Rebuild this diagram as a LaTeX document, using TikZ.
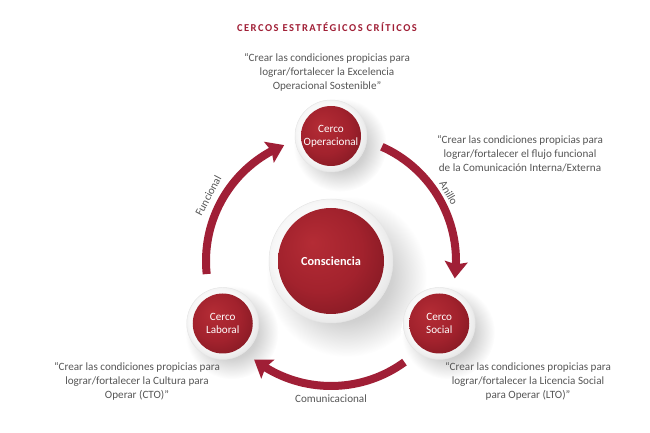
\documentclass[tikz,border=0pt]{standalone}
\usepackage{fontspec}
\setmainfont{Carlito}
\usetikzlibrary{arrows.meta,bending}

\definecolor{vino}{HTML}{A01F36}
\definecolor{rojoclaro}{HTML}{B42C35}
\definecolor{rojo}{HTML}{A2222D}
\definecolor{rojooscuro}{HTML}{7A1620}
\definecolor{gristexto}{HTML}{555555}

\pgfdeclareradialshading{bolavino}{\pgfpoint{-9bp}{9bp}}{color(0bp)=(rojoclaro); color(20bp)=(rojo); color(38bp)=(rojooscuro); color(50bp)=(rojooscuro)}
\pgfdeclareradialshading{aro}{\pgfpoint{-4bp}{4bp}}{color(0bp)=(white); color(21bp)=(gray!6); color(29bp)=(gray!22); color(50bp)=(gray!22)}
\pgfdeclareradialshading{sombra}{\pgfpoint{0bp}{0bp}}{color(0bp)=(gray!50); color(14bp)=(gray!36); color(25bp)=(white); color(50bp)=(white)}

\tikzset{
  cercorojo/.style={circle, shading=bolavino, text=white, align=center, inner sep=0pt, font=\fontsize{9.5}{11}\selectfont},
  flecha/.style={draw=vino, line width=0.24cm, -{Stealth[width=0.68cm,length=0.5cm,inset=0.08cm]}},
  cita/.style={align=center, text=gristexto, font=\fontsize{9.5}{12}\selectfont},
  etiqueta/.style={text=gristexto, font=\fontsize{9.5}{11}\selectfont, inner sep=0pt},
}

% sombra, aro y disco rojo
\newcommand{\cerco}[5]{%
  \shade[shading=sombra] ([shift={(0.25*#3,-0.25*#3)}]#2) circle[radius=1.3*#3];
  \shade[shading=aro, draw=gray!20] (#2) circle[radius=#3];
  \node[cercorojo, minimum size=#4*0.06cm] (#1) at (#2) {#5};
}

\begin{document}
\begin{tikzpicture}[x=0.03cm,y=0.03cm]
  \useasboundingbox (0,0) rectangle (650,433);
  \coordinate (centro) at (331,172);
  \coordinate (pOp) at ([shift={(90:125)}]centro);
  \coordinate (pLab) at ([shift={(210:125)}]centro);
  \coordinate (pSoc) at ([shift={(330:125)}]centro);

  \node[text=vino, font=\bfseries\fontsize{9}{11}\selectfont\addfontfeatures{LetterSpace=14}] (titulo) at (327,406) {CERCOS ESTRATÉGICOS CRÍTICOS};

  \cerco{core}{centro}{62}{53}{\bfseries\fontsize{10.5}{12}\selectfont Consciencia}
  \cerco{op}{pOp}{36}{30}{Cerco\\Operacional}
  \cerco{lab}{pLab}{36}{30}{Cerco\\Laboral}
  \cerco{soc}{pSoc}{36}{30}{Cerco\\Social}

  \draw[flecha] ([shift={(186:125)}]centro) arc[start angle=186, end angle=112, radius=125];
  \draw[flecha] ([shift={(66:125)}]centro) arc[start angle=66, end angle=-8, radius=125];
  \draw[flecha] ([shift={(-54:125)}]centro) arc[start angle=-54, end angle=-128, radius=125];

  \node[etiqueta, rotate=62] (tFun) at ([shift={(152:139)}]centro) {Funcional};
  \node[etiqueta, rotate=-60] (tAni) at ([shift={(30:136)}]centro) {Anillo};
  \node[etiqueta] (tCom) at ([shift={(270:138)}]centro) {Comunicacional};

  \node[cita] (qOp) at (327,361) {“Crear las condiciones propicias para\\lograr/fortalecer la Excelencia\\Operacional Sostenible”};
  \node[cita] (qAni) at (520,279) {“Crear las condiciones propicias para\\lograr/fortalecer el flujo funcional\\de la Comunicación Interna/Externa};
  \node[cita] (qLab) at (137,52) {“Crear las condiciones propicias para\\lograr/fortalecer la Cultura para\\Operar (CTO)”};
  \node[cita] (qSoc) at (528,52) {“Crear las condiciones propicias para\\lograr/fortalecer la Licencia Social\\para Operar (LTO)”};
\end{tikzpicture}
\end{document}
